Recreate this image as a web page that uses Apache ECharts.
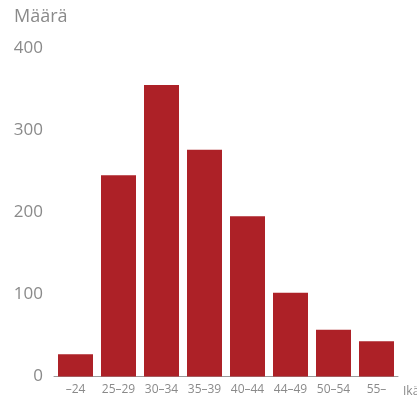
<!DOCTYPE html>
<html>
<head>
<meta charset="utf-8">
<script src="https://cdn.jsdelivr.net/npm/echarts@6/dist/echarts.min.js"></script>
<style>
  html, body { margin: 0; padding: 0; background: #fff; }
  #chart { width: 417px; height: 399px; }
</style>
</head>
<body>
<div id="chart"></div>
<script>
// Age groups and head counts
const categories = ['–24', '25–29', '30–34', '35–39', '40–44', '44–49', '50–54', '55–'];
const counts = [27, 245, 355, 276, 195, 102, 57, 43];
const yTicks = { min: 0, max: 400, interval: 100 };

const font = '"Open Sans", "Noto Sans", sans-serif';
const grey = '#8a8a8a';

const chart = echarts.init(document.getElementById('chart'), null, { renderer: 'canvas' });
chart.setOption({
  animation: false,
  title: {
    text: 'Määrä',
    left: 9,
    top: 3,
    textStyle: { color: grey, fontSize: 18, fontWeight: 'normal', fontFamily: font }
  },
  grid: { left: 54, right: 19, top: 48, bottom: 22.5, containLabel: false, outerBoundsMode: 'none' },
  xAxis: {
    type: 'category',
    data: categories,
    name: 'Ikä',
    nameLocation: 'end',
    nameGap: 5,
    nameTextStyle: { color: grey, fontSize: 12, fontFamily: font, verticalAlign: 'top', padding: [9, 0, 0, 0] },
    axisLine: { lineStyle: { color: '#9a9a9a', width: 1 } },
    axisTick: { show: false },
    axisLabel: { color: grey, fontSize: 12, fontFamily: font, margin: 7, interval: 0, hideOverlap: false }
  },
  yAxis: {
    type: 'value',
    min: yTicks.min,
    max: yTicks.max,
    interval: yTicks.interval,
    axisLine: { show: false },
    axisTick: { show: false },
    splitLine: { show: false },
    axisLabel: { color: grey, fontSize: 17, fontFamily: font, margin: 11 }
  },
  series: [{
    type: 'bar',
    data: counts,
    barWidth: 35,
    itemStyle: { color: '#ad2127' }
  }]
});
</script>
</body>
</html>
